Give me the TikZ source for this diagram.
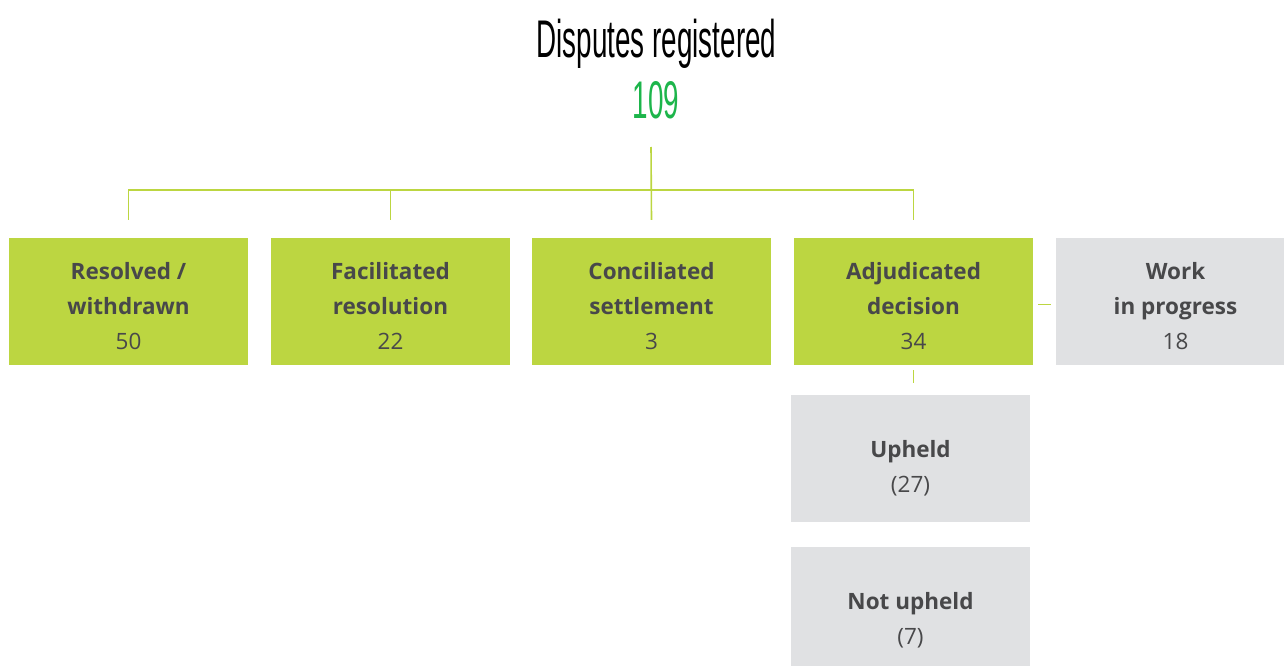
\documentclass[tikz,border=0pt]{standalone}
\usepackage{fontspec}
\setmainfont{Open Sans}
\newfontfamily\headfont{Liberation Sans}
\usetikzlibrary{positioning}
\definecolor{lime}{HTML}{BCD641}
\definecolor{boxgray}{HTML}{E0E1E3}
\definecolor{ink}{HTML}{48484A}
\definecolor{headgreen}{HTML}{1DB54B}
% first-line struts that push the text block down inside its box
\newcommand{\topgap}{\rule{0pt}{26pt}}
\newcommand{\lowgap}{\rule{0pt}{36pt}}
\tikzset{
  box/.style={rectangle, minimum width=239pt, minimum height=127pt, inner sep=0pt,
    align=center, text=ink, font=\fontsize{22.5}{35}\selectfont},
  greenbox/.style={box, fill=lime},
  graybox/.style={box, fill=boxgray},
  conn/.style={draw=lime, line width=1.6pt},
  head/.style={inner sep=0pt, anchor=base, font=\headfont\fontsize{53}{53}\selectfont}
}
\begin{document}
\begin{tikzpicture}[x=1pt,y=-1pt]
  \useasboundingbox (0,0) rectangle (1284,666);
  % heading
  \node[head, text=black] (title) at (656.5,58) {\scalebox{0.525}[1]{Disputes registered}};
  \node[head, text=headgreen] (total) at (656,119) {\scalebox{0.525}[1]{109}};
  % outcome boxes
  \node[greenbox] (b1) at (128.5,301.5) {\topgap\textbf{Resolved /}\\\textbf{withdrawn}\\50};
  \node[greenbox] (b2) at (390.5,301.5) {\topgap\textbf{Facilitated}\\\textbf{resolution}\\22};
  \node[greenbox] (b3) at (651.5,301.5) {\topgap\textbf{Conciliated}\\\textbf{settlement}\\3};
  \node[greenbox] (b4) at (913.5,301.5) {\topgap\textbf{Adjudicated}\\\textbf{decision}\\34};
  \node[graybox] (b5) at (1175.5,301.5) {\topgap\textbf{Work}\\\textbf{in progress}\\18};
  \node[graybox] (up) at (910.5,458.5) {\lowgap\textbf{Upheld}\\(27)};
  \node[graybox] (nup) at (910.5,610.5) {\lowgap\textbf{Not upheld}\\(7)};
  % connectors
  \coordinate (stem) at (651,147);
  \coordinate (bar) at (0,190);
  \draw[conn] (stem) -- ([yshift=18pt]b3.north);
  \draw[conn] ([yshift=18pt]b1.north) -- (b1.north |- bar) -- (b4.north |- bar) -- ([yshift=18pt]b4.north);
  \draw[conn] ([yshift=18pt]b2.north) -- (b2.north |- bar);
  \draw[conn] ([xshift=5pt,yshift=-3pt]b4.east) -- ([xshift=-5pt,yshift=-3pt]b5.west);
  \draw[conn] ([yshift=-5pt]b4.south) -- ([yshift=12pt]b4.south |- up.north);
\end{tikzpicture}
\end{document}
